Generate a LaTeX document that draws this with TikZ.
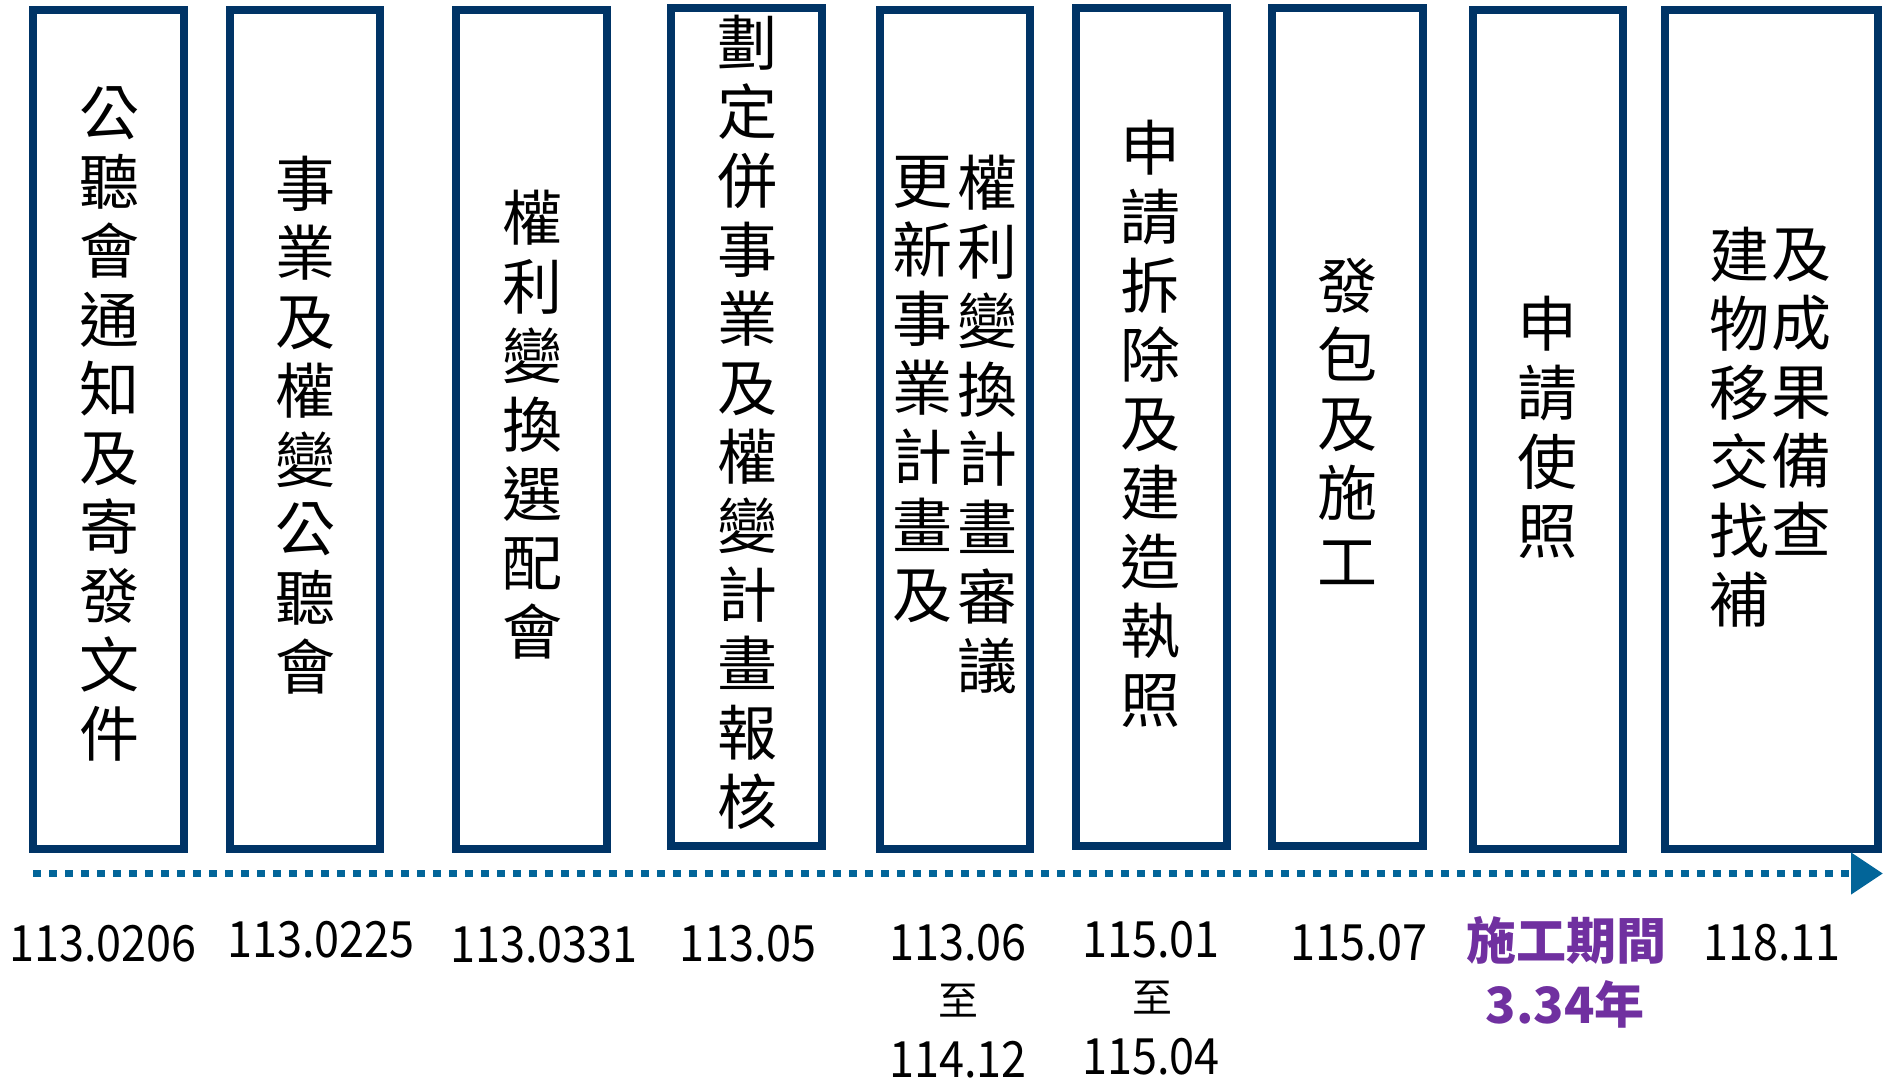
\documentclass[tikz,border=0pt]{standalone}
\usepackage{fontspec}
\newfontfamily\cjk{Noto Sans CJK TC}
\newfontfamily\datefont[FakeStretch=0.9]{Noto Sans CJK TC}
\usetikzlibrary{arrows.meta}
\definecolor{boxblue}{RGB}{0,52,102}
\definecolor{lineblue}{RGB}{2,101,153}
\definecolor{purp}{RGB}{112,48,160}
\begin{document}
\begin{tikzpicture}[x=1pt,y=-1pt,
  stepbox/.style={draw=boxblue, line width=8pt, fill=white, inner sep=0pt, minimum width=151pt, minimum height=839pt},
  vtext/.style={font=\cjk\fontsize{60}{69}\selectfont, align=center, inner sep=0pt, anchor=center},
  datetext/.style={font=\datefont\fontsize{50}{57}\selectfont, inner sep=0pt, anchor=base},
  zhi/.style={font=\cjk\fontsize{40}{48}\selectfont, inner sep=0pt, anchor=center},
  periodtext/.style={font=\cjk\bfseries\fontsize{50}{57}\selectfont, text=purp, inner sep=0pt, anchor=center}
]
\useasboundingbox (0,0) rectangle (1883,1081);

% boxes
\node[stepbox] (b1) at (108.5,429.5) {};
\node[stepbox, minimum width=150pt] (b2) at (305,429.5) {};
\node[stepbox] (b3) at (531.5,429.5) {};
\node[stepbox, minimum height=838pt] (b4) at (746.5,427) {};
\node[stepbox, minimum width=150.5pt] (b5) at (954.75,429.5) {};
\node[stepbox, minimum height=838pt] (b6) at (1151.5,427) {};
\node[stepbox, minimum height=838pt] (b7) at (1347.5,427) {};
\node[stepbox, minimum width=150pt] (b8) at (1547.5,429.5) {};
\node[stepbox, minimum width=213pt] (b9) at (1771.5,429.5) {};

% vertical texts
\node[vtext] (t1) at (109,424) {公\\聽\\會\\通\\知\\及\\寄\\發\\文\\件};
\node[vtext] (t2) at (305,425) {事\\業\\及\\權\\變\\公\\聽\\會};
\node[vtext] (t3) at (532,425) {權\\利\\變\\換\\選\\配\\會};
\node[vtext] (t4) at (747,422) {劃\\定\\併\\事\\業\\及\\權\\變\\計\\畫\\報\\核};
\node[vtext] (t5r) at (987,424) {權\\利\\變\\換\\計\\畫\\審\\議};
\node[vtext] (t5l) at (922,389.5) {更\\新\\事\\業\\計\\畫\\及};
\node[vtext] (t6) at (1150,424) {申\\請\\拆\\除\\及\\建\\造\\執\\照};
\node[vtext] (t7) at (1347,421) {發\\包\\及\\施\\工};
\node[vtext] (t8) at (1547,427) {申\\請\\使\\照};
\node[vtext] (t9r) at (1801,392) {及\\成\\果\\備\\查};
\node[vtext] (t9l) at (1739,427) {建\\物\\移\\交\\找\\補};

% timeline
\coordinate (tl0) at (33,873.5);
\coordinate (tl1) at (1883,873.5);
\draw[lineblue, line width=7.5pt, dash pattern=on 7.5pt off 8.5pt,
  -{Triangle[length=32pt,width=40pt]}] (tl0) -- (tl1);

% dates
\node[datetext] (d1) at (103,961) {113.0206};
\node[datetext] (d2) at (321,957) {113.0225};
\node[datetext] (d3) at (544,962) {113.0331};
\node[datetext] (d4) at (748,961) {113.05};
\node[datetext] (d5a) at (958,960) {113.06};
\node[zhi] (d5b) at (958,1001) {至};
\node[datetext] (d5c) at (958,1077) {114.12};
\node[datetext] (d6a) at (1151,957) {115.01};
\node[zhi] (d6b) at (1152,998) {至};
\node[datetext] (d6c) at (1151,1074) {115.04};
\node[datetext] (d7) at (1359,960) {115.07};
\node[periodtext] (p1) at (1566,940) {施工期間};
\node[periodtext] (p2) at (1565,1004) {3.34年};
\node[datetext] (d8) at (1772,960) {118.11};
\end{tikzpicture}
\end{document}
